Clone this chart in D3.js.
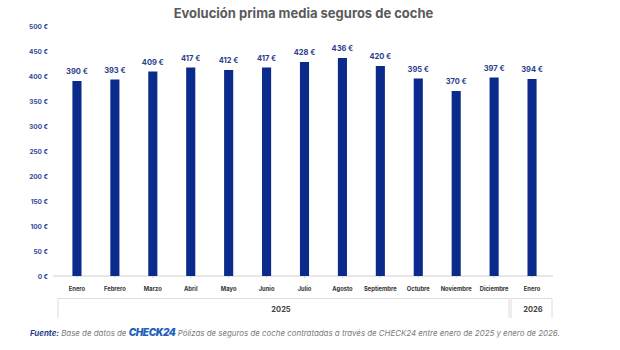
<!DOCTYPE html>
<html><head><meta charset="utf-8">
<script src="https://cdn.jsdelivr.net/npm/d3@7"></script>
<style>body{margin:0;background:#fff}svg{display:block}</style>
</head><body><svg id="c" width="620" height="350"></svg>
<script>
const months = ["Enero","Febrero","Marzo","Abril","Mayo","Junio","Julio","Agosto","Septiembre","Octubre","Noviembre","Diciembre","Enero"];
const values = [390,393,409,417,412,417,428,436,420,395,370,397,394];
const years = [{label:"2025", from:0, to:11},{label:"2026", from:12, to:12}];
const yTicks = [0,50,100,150,200,250,300,350,400,450,500];
const title = "Evolución prima media seguros de coche";

const svg = d3.select("#c");
const keys = months.map((m,i)=>i);
const x = d3.scaleBand().domain(keys).range([58,551]).paddingInner(0.76).paddingOuter(0.38);
const y = d3.scaleLinear().domain([0,500]).range([276,26]);
const barColor = "#0b2b8c", labColor = "#2a3d8c";

svg.append("text").attr("x",303.5).attr("y",17.5).attr("text-anchor","middle")
  .attr("font-family","Inter, sans-serif").attr("font-weight",700).attr("font-size",13)
  .attr("fill","#5a5a5a").text(title);

// y axis labels
svg.append("g").selectAll("text").data(yTicks).join("text")
  .attr("x",48).attr("y",d=>y(d)+2.5).attr("text-anchor","end")
  .attr("font-family","Inter, sans-serif").attr("font-weight",700).attr("font-size",6.5)
  .attr("fill","#34449a").text(d=>d+" €");

// baseline axis
const xAxis = d3.axisBottom(x).tickSize(2).tickFormat(()=>"");
const ga = svg.append("g").attr("transform","translate(0,276)").call(xAxis);
ga.select(".domain").attr("stroke","#d0d0d0").attr("d","M53,0H553");
ga.selectAll(".tick line").attr("stroke","#d0d0d0");

svg.append("g").selectAll("rect").data(values).join("rect")
  .attr("x",(d,i)=>x(i)).attr("width",x.bandwidth())
  .attr("y",d=>y(d)).attr("height",d=>y(0)-y(d)).attr("fill",barColor);

svg.append("g").selectAll("text").data(values).join("text")
  .attr("x",(d,i)=>x(i)+x.bandwidth()/2).attr("y",d=>y(d)-7).attr("text-anchor","middle")
  .attr("font-family","Inter, sans-serif").attr("font-weight",700).attr("font-size",7.5)
  .attr("fill",labColor).text(d=>d+" €");

svg.append("g").selectAll("text").data(months).join("text")
  .attr("x",(d,i)=>x(i)+x.bandwidth()/2).attr("y",291).attr("text-anchor","middle")
  .attr("font-family","Inter, sans-serif").attr("font-weight",700).attr("font-size",5.8)
  .attr("fill","#333").text(d=>d);

// year boxes
const yg = svg.append("g");
years.forEach((yr,k)=>{
  const left = k===0 ? 58 : 511;
  const right = k===0 ? 509 : 552;
  yg.append("path").attr("d",`M${left},318V298.5H${right}V318`).attr("fill","none")
    .attr("stroke","#dcdcdc").attr("stroke-width",1);
  yg.append("text").attr("x",k===0?281:(x(yr.from)+x.bandwidth()/2+1)).attr("y",312)
    .attr("text-anchor","middle").attr("font-family","Inter, sans-serif").attr("font-weight",700)
    .attr("font-size",7.5).attr("fill","#444").text(yr.label);
});

// source
const src = svg.append("text").attr("x",30).attr("y",336)
  .attr("font-family","Inter, sans-serif").attr("font-style","italic").attr("font-size",7.9).attr("fill","#7a7a7a");
src.append("tspan").attr("font-weight",700).attr("fill","#2a3d8c").text("Fuente:");
src.append("tspan").text(" Base de datos de ");
src.append("tspan").attr("font-weight",900).attr("font-size",10).attr("letter-spacing",-0.4).attr("fill","#1f5fbf").text("CHECK24");
src.append("tspan").text(" Pólizas de seguros de coche contratadas a través de CHECK24 entre enero de 2025 y enero de 2026.");
</script></body></html>
